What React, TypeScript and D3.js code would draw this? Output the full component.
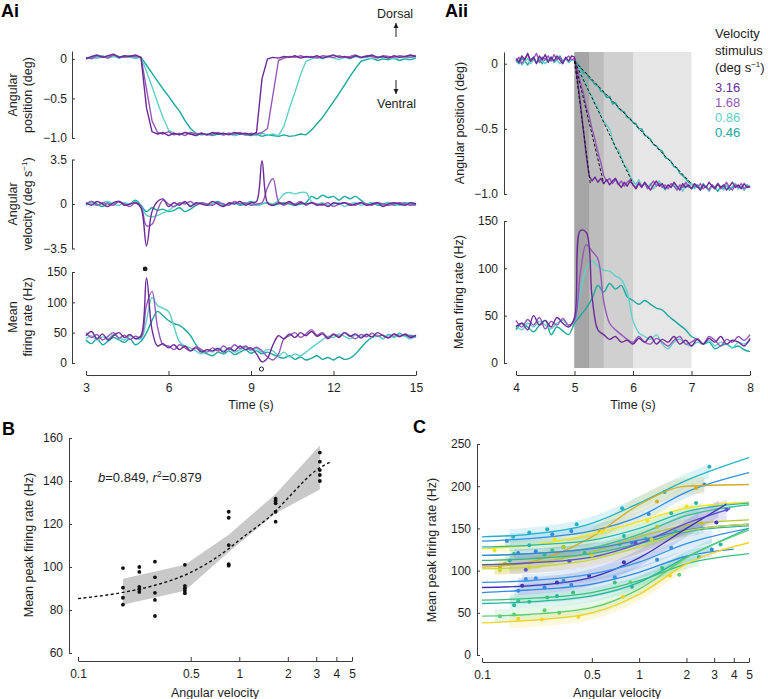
import React, { useEffect, useRef } from 'react';
import * as d3 from 'd3';

const FONT = '"Liberation Sans", Arial, Helvetica, sans-serif';
const INK = '#1e1e1e';
const AXIS = '#3a3a3a';

// stimulus velocities (deg s-1), fastest first
const speeds = ['3.16', '1.68', '0.86', '0.46'];
const speedColors = ['#6b2a96', '#9658b8', '#5fd0c9', '#17a99f'];

// ---- Ai : samples every 0.2 s, 3 .. 15 s
const tAi = d3.range(61).map(i => 3 + i * 0.2);

const posAi316 = [0.00, 0.03, 0.05, 0.02, 0.04, 0.06, 0.02, 0.04, 0.03, 0.05, 0.02, -0.62, -0.92, -0.95, -0.93, -0.97, -0.94, -0.96, -0.93, -0.95, -0.97, -0.94, -0.96, -0.93, -0.95, -0.94, -0.96, -0.93, -0.95, -0.94, -0.96, -0.93, -0.25, 0.00, 0.02, 0.01, 0.03, 0.02, 0.04, 0.01, 0.03, 0.02, 0.04, 0.01, 0.03, 0.05, 0.02, 0.03, 0.01, 0.04, 0.02, 0.03, 0.05, 0.02, 0.03, 0.01, 0.04, 0.02, 0.03, 0.05, 0.03];
const posAi168 = [0.02, 0.00, 0.04, 0.03, 0.01, 0.05, 0.03, 0.02, 0.04, 0.03, 0.02, -0.38, -0.78, -0.93, -0.95, -0.92, -0.96, -0.94, -0.97, -0.93, -0.95, -0.94, -0.96, -0.95, -0.93, -0.96, -0.94, -0.95, -0.93, -0.96, -0.94, -0.95, -0.93, -0.88, -0.45, -0.02, 0.01, 0.03, 0.02, 0.04, 0.02, 0.03, 0.01, 0.04, 0.03, 0.02, 0.04, 0.02, 0.03, 0.05, 0.02, 0.04, 0.03, 0.01, 0.04, 0.03, 0.02, 0.04, 0.03, 0.02, 0.04];
const posAi086 = [0.01, 0.03, 0.02, 0.04, 0.01, 0.03, 0.02, 0.04, 0.02, 0.03, 0.02, -0.16, -0.35, -0.55, -0.74, -0.90, -0.94, -0.96, -0.93, -0.95, -0.97, -0.94, -0.96, -0.95, -0.93, -0.96, -0.95, -0.97, -0.94, -0.96, -0.95, -0.97, -0.94, -0.96, -0.95, -0.97, -0.85, -0.62, -0.42, -0.20, -0.03, 0.00, 0.02, 0.00, 0.03, 0.01, -0.01, 0.02, 0.00, 0.03, 0.01, 0.02, 0.00, 0.03, 0.01, 0.02, 0.00, 0.02, 0.01, 0.03, 0.01];
const posAi046 = [0.00, 0.02, 0.01, 0.03, 0.02, 0.04, 0.01, 0.03, 0.02, 0.01, 0.02, -0.08, -0.18, -0.28, -0.38, -0.47, -0.57, -0.66, -0.78, -0.88, -0.94, -0.96, -0.95, -0.97, -0.95, -0.96, -0.94, -0.97, -0.95, -0.96, -0.97, -0.95, -0.98, -0.96, -0.97, -0.98, -0.96, -0.98, -0.97, -0.95, -0.96, -0.90, -0.82, -0.74, -0.64, -0.54, -0.44, -0.33, -0.22, -0.12, -0.03, -0.01, 0.01, -0.02, 0.00, -0.01, 0.01, -0.02, 0.00, -0.01, 0.01];

const velAi316 = [0.1, -0.1, 0.2, 0.0, -0.2, 0.1, 0.2, -0.1, 0.0, 0.1, -0.3, -3.3, -0.6, 0.2, 0.4, -0.2, 0.1, -0.1, 0.2, -0.2, 0.1, 0.0, -0.1, 0.2, 0.0, -0.2, 0.1, 0.0, 0.2, -0.1, 0.1, 0.2, 3.4, 0.1, -0.1, 0.1, 0.0, 0.2, -0.1, 0.1, 0.0, 0.1, -0.1, 0.0, -0.2, 0.1, 0.0, 0.1, -0.1, 0.0, 0.1, -0.1, 0.0, 0.1, -0.2, 0.0, 0.1, 0.0, -0.1, 0.1, 0.0];
const velAi168 = [0.0, 0.2, -0.1, 0.1, 0.0, -0.1, 0.2, 0.0, -0.2, 0.1, -0.2, -1.7, -1.6, -0.5, 0.3, 0.0, -0.2, 0.1, 0.0, 0.2, -0.1, 0.1, 0.0, -0.1, 0.1, 0.0, -0.1, 0.2, 0.0, 0.1, -0.1, 0.0, 0.1, 1.3, 2.0, 0.2, -0.1, 0.1, 0.0, 0.2, -0.1, 0.1, 0.0, -0.1, 0.1, -0.2, 0.0, 0.1, 0.0, -0.1, 0.1, 0.0, -0.1, 0.1, 0.0, -0.1, 0.0, 0.1, 0.0, -0.1, 0.0];
const velAi086 = [0.1, 0.0, -0.1, 0.1, 0.2, 0.0, -0.1, 0.1, 0.0, 0.2, -0.2, -0.9, -1.0, -0.9, -0.7, -0.5, -0.2, 0.0, 0.1, -0.1, 0.0, 0.1, -0.1, 0.0, 0.1, 0.0, -0.1, 0.1, 0.0, 0.1, 0.0, -0.1, 0.0, 0.1, 0.0, 0.3, 0.8, 0.9, 0.8, 0.9, 0.9, 0.2, 0.0, 0.1, -0.1, 0.0, 0.1, -0.2, 0.0, 0.1, -0.1, 0.0, 0.1, 0.0, -0.1, 0.1, 0.0, -0.1, 0.0, 0.1, -0.1];
const velAi046 = [-0.1, 0.2, 0.0, -0.2, 0.1, 0.0, 0.2, -0.1, 0.0, 0.3, -0.1, -0.6, -0.3, -0.5, -0.4, -0.6, -0.5, -0.3, -0.6, -0.4, -0.1, 0.1, -0.1, 0.0, 0.2, -0.1, 0.0, 0.1, -0.1, 0.0, 0.2, -0.1, 0.0, 0.1, -0.1, 0.0, 0.1, 0.0, -0.1, 0.0, 0.1, 0.6, 0.4, 0.7, 0.5, 0.6, 0.3, 0.6, 0.4, 0.6, 0.3, 0.0, 0.1, -0.1, 0.0, 0.1, -0.1, 0.0, 0.1, 0.0, -0.1];

const frAi316 = [45, 52, 40, 48, 38, 45, 50, 42, 47, 40, 45, 140, 55, 28, 32, 25, 30, 22, 28, 20, 25, 18, 22, 20, 24, 18, 25, 20, 28, 22, 25, 15, 2, 8, 30, 45, 40, 48, 42, 50, 45, 52, 44, 48, 40, 47, 42, 50, 44, 48, 41, 47, 43, 50, 45, 42, 48, 44, 47, 42, 46];
const frAi168 = [50, 42, 47, 38, 44, 50, 41, 46, 39, 44, 42, 95, 118, 60, 30, 28, 22, 30, 25, 20, 27, 22, 18, 25, 20, 28, 22, 30, 24, 28, 22, 26, 20, 10, 5, 15, 40, 45, 50, 42, 48, 55, 46, 50, 42, 48, 44, 50, 45, 40, 47, 43, 49, 44, 46, 41, 47, 43, 48, 44, 45];
const frAi086 = [40, 45, 38, 43, 40, 47, 42, 38, 45, 40, 40, 70, 108, 95, 90, 85, 60, 35, 28, 25, 20, 15, 22, 18, 24, 20, 25, 18, 22, 26, 20, 24, 18, 22, 20, 12, 18, 10, 15, 12, 18, 25, 32, 38, 44, 42, 48, 44, 40, 46, 43, 48, 42, 45, 40, 46, 42, 48, 44, 40, 45];
const frAi046 = [38, 32, 40, 30, 36, 42, 38, 34, 40, 30, 36, 50, 70, 85, 78, 70, 65, 62, 55, 45, 30, 20, 15, 12, 18, 15, 20, 14, 18, 22, 16, 20, 15, 18, 14, 10, 8, 12, 6, 10, 5, 8, 12, 6, 9, 5, 10, 6, 8, 15, 25, 35, 42, 46, 40, 47, 43, 49, 44, 46, 42];

// ---- Aii position : samples every 0.05 s, 4 .. 8 s
const tAiiPos = d3.range(81).map(i => 4 + i * 0.05);

const posAii316 = [0.04, 0.01, 0.06, 0.03, 0.08, 0.02, 0.05, 0.00, 0.06, 0.03, 0.07, 0.01, 0.05, 0.02, 0.06, 0.03, 0.00, 0.05, 0.02, 0.06, 0.05, -0.12, -0.30, -0.50, -0.70, -0.86, -0.90, -0.87, -0.91, -0.88, -0.92, -0.89, -0.93, -0.90, -0.88, -0.92, -0.95, -0.91, -0.94, -0.90, -0.93, -0.96, -0.92, -0.95, -0.91, -0.94, -0.97, -0.93, -0.90, -0.94, -0.92, -0.96, -0.93, -0.95, -0.91, -0.94, -0.97, -0.92, -0.95, -0.93, -0.96, -0.92, -0.94, -0.97, -0.93, -0.95, -0.91, -0.94, -0.96, -0.92, -0.95, -0.93, -0.97, -0.94, -0.91, -0.95, -0.93, -0.96, -0.92, -0.95, -0.94];
const posAii168 = [0.02, 0.05, 0.00, 0.04, 0.07, 0.02, 0.04, 0.08, 0.01, 0.05, 0.03, 0.06, 0.02, 0.07, 0.03, 0.05, 0.01, 0.04, 0.06, 0.03, 0.04, -0.04, -0.14, -0.22, -0.33, -0.40, -0.50, -0.58, -0.68, -0.76, -0.86, -0.90, -0.88, -0.92, -0.89, -0.93, -0.90, -0.94, -0.91, -0.89, -0.93, -0.95, -0.91, -0.94, -0.92, -0.96, -0.93, -0.90, -0.94, -0.92, -0.95, -0.93, -0.96, -0.92, -0.94, -0.97, -0.93, -0.95, -0.91, -0.94, -0.96, -0.93, -0.95, -0.92, -0.96, -0.94, -0.97, -0.93, -0.95, -0.92, -0.96, -0.94, -0.91, -0.95, -0.97, -0.93, -0.95, -0.92, -0.96, -0.94, -0.95];
const posAii086 = [0.01, 0.03, -0.01, 0.02, 0.04, 0.00, 0.03, 0.01, 0.04, 0.02, 0.00, 0.03, 0.05, 0.01, 0.03, 0.00, 0.02, 0.04, 0.01, 0.03, 0.03, -0.02, -0.06, -0.12, -0.15, -0.22, -0.25, -0.30, -0.33, -0.40, -0.44, -0.47, -0.50, -0.58, -0.65, -0.66, -0.72, -0.78, -0.80, -0.86, -0.90, -0.93, -0.89, -0.94, -0.91, -0.95, -0.92, -0.96, -0.93, -0.90, -0.94, -0.97, -0.93, -0.95, -0.92, -0.96, -0.94, -0.98, -0.93, -0.95, -0.92, -0.96, -0.94, -0.97, -0.93, -0.95, -0.98, -0.94, -0.96, -0.92, -0.95, -0.97, -0.93, -0.96, -0.94, -0.92, -0.96, -0.94, -0.97, -0.93, -0.95];
const posAii046 = [0.03, 0.00, 0.04, 0.02, -0.01, 0.03, 0.05, 0.01, 0.03, 0.00, 0.04, 0.02, 0.05, 0.01, 0.03, 0.06, 0.02, 0.04, 0.01, 0.03, 0.03, 0.00, -0.03, -0.07, -0.07, -0.11, -0.13, -0.16, -0.17, -0.21, -0.22, -0.26, -0.25, -0.31, -0.30, -0.34, -0.36, -0.37, -0.41, -0.42, -0.45, -0.46, -0.50, -0.50, -0.55, -0.56, -0.58, -0.62, -0.63, -0.66, -0.67, -0.72, -0.73, -0.75, -0.79, -0.80, -0.84, -0.86, -0.88, -0.91, -0.92, -0.95, -0.93, -0.96, -0.92, -0.95, -0.97, -0.93, -0.95, -0.98, -0.94, -0.96, -0.93, -0.97, -0.95, -0.92, -0.96, -0.94, -0.97, -0.93, -0.95];

// ---- Aii firing : samples every 0.1 s, 4 .. 8 s
const tAii = d3.range(41).map(i => 4 + i * 0.1);

const frAii316 = [38, 42, 35, 50, 40, 45, 38, 48, 42, 38, 48, 140, 138, 70, 35, 30, 25, 28, 22, 24, 20, 26, 22, 28, 20, 25, 22, 28, 20, 24, 18, 25, 20, 26, 22, 28, 20, 24, 22, 18, 26];
const frAii168 = [45, 38, 46, 40, 48, 36, 44, 40, 47, 40, 45, 95, 125, 118, 110, 65, 42, 35, 30, 25, 22, 28, 22, 20, 26, 22, 18, 24, 28, 20, 22, 26, 20, 28, 24, 18, 25, 22, 28, 24, 30];
const frAii086 = [40, 35, 42, 38, 44, 40, 36, 42, 45, 40, 44, 75, 100, 108, 102, 98, 97, 92, 88, 75, 45, 32, 28, 25, 30, 20, 15, 22, 25, 20, 18, 22, 20, 24, 18, 22, 20, 16, 22, 20, 24];
const frAii046 = [35, 42, 38, 33, 40, 45, 30, 38, 34, 30, 42, 50, 58, 68, 82, 75, 84, 78, 82, 70, 66, 62, 66, 62, 58, 56, 50, 45, 40, 35, 28, 25, 20, 22, 15, 18, 20, 16, 18, 14, 12];

// stimulus ramps (end time of each ramp, s) and shading greys
const rampEnds = [5.27, 5.5, 6.0, 7.0];
const shadeEnds = [7, 6, 5.5, 5.25];
const shadeColors = ['#e6e6e6', '#d0d0d0', '#bcbcbc', '#a5a5a5'];

// ---- B : peak firing vs velocity
const bVel = [0.19, 0.19, 0.19, 0.19, 0.24, 0.24, 0.24, 0.24, 0.24, 0.30, 0.30, 0.30, 0.30, 0.30, 0.46, 0.46, 0.46, 0.46, 0.46, 0.86, 0.86, 0.86, 0.86, 0.86, 1.68, 1.68, 1.68, 1.68, 1.68, 3.16, 3.16, 3.16, 3.16, 3.16];
const bRate = [99.5, 90.4, 85.7, 82.5, 100, 97.7, 90.8, 89.6, 88.4, 102.5, 95.2, 88.0, 84.7, 77.2, 101, 91.2, 90.1, 89.0, 87.8, 125.7, 122.9, 110.2, 101.3, 100.6, 131.8, 130.7, 129.6, 125.7, 121.1, 153.2, 149, 145.1, 142.8, 140];
const bFitX = [0.1, 0.2, 0.3, 0.5, 0.86, 1.0, 1.68, 2.0, 3.0, 3.7];
const bFitY = [85.3, 88.5, 91.5, 97.5, 108.5, 112.5, 126, 132, 145, 149];
const bBandX = [0.19, 0.46, 0.86, 1.68, 3.16];
const bBandLo = [82.5, 89, 107, 125, 136];
const bBandHi = [94.5, 101, 115, 134, 156.5];

// ---- C : one fit per neuron
const cKnots = [0.1, 0.2, 0.5, 1, 2, 5];
const cColors = ['#1fb3c6', '#2e8fe3', '#d0ae22', '#f2e41c', '#26b8b0', '#3cc08c', '#b4c62a', '#3a85dc', '#34b494', '#5a52cc', '#cad636', '#3f35b0', '#3b92e4', '#2f8be0', '#38c080', '#27b59c', '#5ccf72', '#f5d31c'];
const cFits = [
  [140, 143, 156, 180, 207, 234],
  [135, 138, 147, 164, 193, 216],
  [104, 110, 140, 178, 200, 202],
  [126, 130, 143, 158, 174, 181],
  [128, 130, 136, 150, 170, 180],
  [118, 120, 127, 143, 165, 178],
  [106, 109, 122, 140, 154, 160],
  [118, 120, 126, 136, 148, 155],
  [112, 114, 120, 132, 146, 153],
  [107, 109, 116, 132, 156, 180],
  [102, 104, 113, 128, 147, 155],
  [80, 82, 92, 115, 150, 195],
  [86, 88, 96, 110, 132, 150],
  [74, 77, 84, 98, 117, 127],
  [65, 67, 74, 88, 108, 120],
  [61, 63, 70, 86, 116, 150],
  [46, 48, 56, 78, 115, 148],
  [38, 41, 50, 72, 108, 133],
];
const cEnds = [5, 5, 5, 5, 5, 5, 5, 5, 5, 3.8, 5, 3.6, 5, 4, 5, 5, 5, 5];
const cBands = [[0.15, 2.8], [0.14, 2.6], [0.12, 2.6], [0.12, 2.2], [0.15, 2.5], [0.15, 2.4], [0.13, 2.5], [0.16, 2.6], [0.14, 2.4], [0.15, 3.6], [0.12, 2.0], [0.17, 3.2], [0.18, 2.9], [0.16, 2.9], [0.15, 2.4], [0.15, 2.9], [0.12, 1.9], [0.15, 2.0]];
const cCi = [8, 7, 10, 6, 6, 6, 7, 6, 6, 12, 7, 10, 8, 7, 6, 7, 8, 8];
const cPoints = [
  [[0.158, 140], [0.2, 145], [0.26, 149], [0.4, 155], [0.78, 174], [1.45, 193], [2.8, 223]],
  [[0.144, 135], [0.28, 143], [0.37, 147], [1.15, 167], [2.6, 202]],
  [[0.13, 105], [0.3, 121], [0.56, 147], [1.3, 182], [2.3, 198]],
  [[0.12, 124], [0.29, 137], [0.58, 146], [1.13, 159], [2.0, 176]],
  [[0.2, 130], [0.33, 128], [0.8, 141], [1.6, 168], [2.3, 180]],
  [[0.16, 120], [0.28, 124], [0.75, 131], [1.1, 138]],
  [[0.14, 108], [0.33, 128], [1.3, 152], [2.5, 156]],
  [[0.17, 121], [0.22, 123], [0.9, 133], [2.5, 150]],
  [[0.15, 112], [0.25, 119], [0.45, 121], [1.7, 146]],
  [[0.19, 101], [0.36, 111], [0.95, 133], [3.6, 172]],
  [[0.13, 100], [0.2, 104], [0.5, 118], [1.2, 137]],
  [[0.18, 82], [0.3, 86], [0.48, 94], [0.8, 110], [3.1, 157]],
  [[0.19, 90], [0.22, 91], [0.33, 88], [0.7, 92], [1.6, 127]],
  [[0.17, 76], [0.25, 80], [0.37, 83], [1.3, 113], [2.9, 125]],
  [[0.17, 64], [0.2, 63], [0.26, 68], [0.38, 74], [0.7, 86], [1.4, 103], [2.4, 116]],
  [[0.16, 59], [0.3, 70], [0.9, 81], [3.3, 131]],
  [[0.13, 46], [0.16, 48], [0.25, 53], [0.31, 50], [0.88, 86], [1.8, 95]],
  [[0.17, 43], [0.24, 42], [0.41, 45], [0.79, 69], [1.57, 94]],
];

const logTicks = [0.1, 0.5, 1, 2, 3, 4, 5];

const App = () => {
  const ref = useRef<SVGSVGElement>(null);

  useEffect(() => {
    const svg = d3.select(ref.current);
    svg.selectAll('*').remove();

    const minusFmt = (dec: number) => (d: number) => d === 0 ? '0' : d3.format(`.${dec}f`)(d);

    function styleAxis(g: any) {
      g.attr('font-size', 12).attr('font-family', FONT);
      g.selectAll('path.domain').attr('stroke', AXIS).attr('stroke-width', 1);
      g.selectAll('.tick line').attr('stroke', AXIS);
      g.selectAll('text').attr('fill', INK);
    }
    function leftAxis(scale: any, x: number, ticks: number[], fmt: any, pad = 5) {
      const g = svg.append('g').attr('transform', `translate(${x},0)`)
        .call(d3.axisLeft(scale).tickValues(ticks).tickFormat(fmt).tickSize(-3).tickSizeOuter(0).tickPadding(pad));
      styleAxis(g);
    }
    function bottomAxis(scale: any, y: number, ticks: number[], fmt: any, pad = 8) {
      const g = svg.append('g').attr('transform', `translate(0,${y})`)
        .call(d3.axisBottom(scale).tickValues(ticks).tickFormat(fmt).tickSize(-4).tickSizeOuter(0).tickPadding(pad));
      styleAxis(g);
    }
    function text(x: number, y: number, s: string, size = 12.5, anchor = 'start', weight = 'normal', fill = INK) {
      return svg.append('text').attr('x', x).attr('y', y).attr('text-anchor', anchor)
        .attr('font-size', size).attr('font-weight', weight).attr('font-family', FONT).attr('fill', fill).text(s);
    }
    // rotated title, segments: [text, superscript?]
    function yTitle(bx: number, cy: number, segs: [string, boolean][]) {
      const t = svg.append('text').attr('transform', `translate(${bx},${cy}) rotate(-90)`)
        .attr('text-anchor', 'middle').attr('font-size', 12.5).attr('font-family', FONT).attr('fill', INK);
      segs.forEach(([s, sup]) => {
        const ts = t.append('tspan').text(s);
        if (sup) ts.attr('font-size', 8).attr('baseline-shift', '5');
      });
    }

    // ================= Ai =================
    const xAi = d3.scaleLinear([3, 15], [86, 416]);
    const yPos = d3.scaleLinear([-1, 0.1], [138, 51]);
    const yVel = d3.scaleLinear([-3.5, 3.5], [248.5, 159.5]);
    const yFr = d3.scaleLinear([0, 150], [363, 272]);

    const posAi = [posAi316, posAi168, posAi086, posAi046];
    const velAi = [velAi316, velAi168, velAi086, velAi046];
    const frAi = [frAi316, frAi168, frAi086, frAi046];

    const drawTraces = (series: number[][], t: number[], x: any, y: any, curve: any) => {
      const line = d3.line<number>().x((d, i) => x(t[i])).y(d => y(d)).curve(curve);
      [3, 2, 1, 0].forEach(k => {
        svg.append('path').attr('d', line(series[k])).attr('fill', 'none')
          .attr('stroke', speedColors[k]).attr('stroke-width', 1.4).attr('stroke-linejoin', 'round');
      });
    };
    drawTraces(posAi, tAi, xAi, yPos, d3.curveLinear);
    drawTraces(velAi, tAi, xAi, yVel, d3.curveCatmullRom);
    drawTraces(frAi, tAi, xAi, yFr, d3.curveCatmullRom);

    leftAxis(yPos, 72, [-1, -0.5, 0], minusFmt(1));
    leftAxis(yVel, 72, [-3.5, 0, 3.5], minusFmt(1));
    leftAxis(yFr, 72, [0, 50, 100, 150], d3.format('d'));
    bottomAxis(xAi, 375, [3, 6, 9, 12, 15], d3.format('d'));

    // peak / trough markers
    svg.append('circle').attr('cx', xAi(5.15)).attr('cy', yFr(155)).attr('r', 2.4).attr('fill', INK);
    svg.append('circle').attr('cx', xAi(9.38)).attr('cy', yFr(-10)).attr('r', 2.1)
      .attr('fill', 'white').attr('stroke', INK).attr('stroke-width', 1);

    yTitle(17, 95, [['Angular', false]]);
    yTitle(32, 95, [['position (deg)', false]]);
    yTitle(17, 204, [['Angular', false]]);
    yTitle(32, 204, [['velocity (deg s', false], ['\u22121', true], [')', false]]);
    yTitle(17, 317, [['Mean', false]]);
    yTitle(32, 317, [['firing rate (Hz)', false]]);
    text(xAi(9), 409, 'Time (s)', 12.5, 'middle');

    // dorsal / ventral arrows
    const arrow = (x: number, y0: number, y1: number) => {
      svg.append('line').attr('x1', x).attr('x2', x).attr('y1', y0).attr('y2', y1).attr('stroke', INK).attr('stroke-width', 1);
      const dir = y1 < y0 ? 1 : -1;
      svg.append('path').attr('d', `M${x},${y1} L${x - 2.5},${y1 + dir * 5} L${x + 2.5},${y1 + dir * 5} Z`).attr('fill', INK);
    };
    text(377, 17.5, 'Dorsal', 12.5);
    arrow(396, 37, 23);
    arrow(396, 80, 94);
    text(377, 108, 'Ventral', 12.5);

    // ================= Aii =================
    const xAii = d3.scaleLinear([4, 8], [516, 750]);
    const yPos2 = d3.scaleLinear([-1, 0.09], [194, 52]);
    const yFr2 = d3.scaleLinear([0, 150], [363, 221]);

    shadeEnds.forEach((e, i) => {
      svg.append('rect').attr('x', xAii(5)).attr('y', 52).attr('width', xAii(e) - xAii(5)).attr('height', 368 - 52)
        .attr('fill', shadeColors[i]);
    });

    const posAii = [posAii316, posAii168, posAii086, posAii046];
    const frAii = [frAii316, frAii168, frAii086, frAii046];
    drawTraces(posAii, tAiiPos, xAii, yPos2, d3.curveLinear);
    drawTraces(frAii, tAii, xAii, yFr2, d3.curveCatmullRom);

    rampEnds.forEach(e => {
      svg.append('line').attr('x1', xAii(5)).attr('y1', yPos2(0.02)).attr('x2', xAii(e)).attr('y2', yPos2(-0.92))
        .attr('stroke', '#111').attr('stroke-width', 1).attr('stroke-dasharray', '3,2');
    });

    leftAxis(yPos2, 504, [-1, -0.5, 0], minusFmt(1), 6);
    leftAxis(yFr2, 504, [0, 50, 100, 150], d3.format('d'), 6);
    bottomAxis(xAii, 375, [4, 5, 6, 7, 8], d3.format('d'));
    yTitle(464, 123, [['Angular position (deg)', false]]);
    yTitle(463, 292, [['Mean firing rate (Hz)', false]]);
    text(xAii(6), 409, 'Time (s)', 12.5, 'middle');

    // legend
    text(715, 38, 'Velocity', 13);
    text(715, 55, 'stimulus', 13);
    const lt = text(715, 71.5, '(deg s', 13);
    lt.append('tspan').attr('font-size', 8).attr('baseline-shift', '5').text('\u22121');
    lt.append('tspan').text(')');
    speeds.forEach((s, i) => text(715, 92 + i * 15, s, 13, 'start', 'normal', speedColors[i]));

    // ================= B =================
    const xB = d3.scaleLog([0.1, 5], [78, 352]);
    const yB = d3.scaleLinear([60, 160], [653, 438]);

    const band = d3.area<number>().x((d, i) => xB(bBandX[i])).y0((d, i) => yB(bBandLo[i])).y1((d, i) => yB(bBandHi[i]));
    svg.append('path').attr('d', band(bBandX)).attr('fill', '#c9c9c9');
    const fit = d3.line<number>().x((d, i) => xB(bFitX[i])).y(d => yB(d)).curve(d3.curveMonotoneX);
    svg.append('path').attr('d', fit(bFitY)).attr('fill', 'none').attr('stroke', '#111')
      .attr('stroke-width', 1.4).attr('stroke-dasharray', '3,2.5');
    bVel.forEach((v, i) => {
      svg.append('circle').attr('cx', xB(v)).attr('cy', yB(bRate[i])).attr('r', 1.9).attr('fill', '#111');
    });

    leftAxis(yB, 69, [60, 80, 100, 120, 140, 160], d3.format('d'), 6);
    bottomAxis(xB, 661, logTicks, (d: number) => String(d));
    yTitle(32.5, 545, [['Mean peak firing rate (Hz)', false]]);
    text(215, 697, 'Angular velocity', 12.5, 'middle');
    const st = svg.append('text').attr('x', 98).attr('y', 481.5).attr('font-size', 13).attr('font-family', FONT).attr('fill', INK);
    st.append('tspan').attr('font-style', 'italic').text('b');
    st.append('tspan').text('=0.849, ');
    st.append('tspan').attr('font-style', 'italic').text('r');
    st.append('tspan').attr('font-size', 8.5).attr('baseline-shift', '5').text('2');
    st.append('tspan').text('=0.879');

    // ================= C =================
    const xC = d3.scaleLog([0.1, 5], [482, 749]);
    const yC = d3.scaleLinear([0, 250], [655, 444]);
    const defs = svg.append('defs');

    cFits.forEach((vals, k) => {
      const bandId = `cband${k}`;
      const lineId = `cline${k}`;
      defs.append('clipPath').attr('id', bandId).append('rect')
        .attr('x', xC(cBands[k][0])).attr('y', 400).attr('width', xC(cBands[k][1]) - xC(cBands[k][0])).attr('height', 300);
      defs.append('clipPath').attr('id', lineId).append('rect')
        .attr('x', xC(0.1)).attr('y', 400).attr('width', xC(cEnds[k]) - xC(0.1)).attr('height', 300);
      const area = d3.area<number>().x((d, i) => xC(cKnots[i])).y0(d => yC(d - cCi[k])).y1(d => yC(d + cCi[k]))
        .curve(d3.curveMonotoneX);
      svg.append('path').attr('d', area(vals)).attr('fill', cColors[k]).attr('fill-opacity', 0.16)
        .attr('clip-path', `url(#${bandId})`);
    });
    cFits.forEach((vals, k) => {
      const line = d3.line<number>().x((d, i) => xC(cKnots[i])).y(d => yC(d)).curve(d3.curveMonotoneX);
      svg.append('path').attr('d', line(vals)).attr('fill', 'none').attr('stroke', cColors[k])
        .attr('stroke-width', 1.3).attr('clip-path', `url(#cline${k})`);
      cPoints[k].forEach(([v, r]) => {
        svg.append('circle').attr('cx', xC(v)).attr('cy', yC(r)).attr('r', 2).attr('fill', cColors[k]);
      });
    });

    leftAxis(yC, 477, [0, 50, 100, 150, 200, 250], d3.format('d'), 6);
    bottomAxis(xC, 662, logTicks, (d: number) => String(d));
    yTitle(436, 550, [['Mean peak firing rate (Hz)', false]]);
    text(617, 697, 'Angular velocity', 12.5, 'middle');

    // panel letters
    text(1, 17, 'Ai', 18, 'start', 'bold', '#000');
    text(445, 17, 'Aii', 18, 'start', 'bold', '#000');
    text(2, 435, 'B', 18, 'start', 'bold', '#000');
    text(413, 433, 'C', 18, 'start', 'bold', '#000');
  }, []);

  return (
    <svg ref={ref} width={768} height={699}
      style={{ position: 'absolute', left: 0, top: 0, background: 'white' }} />
  );
};

export default App;
